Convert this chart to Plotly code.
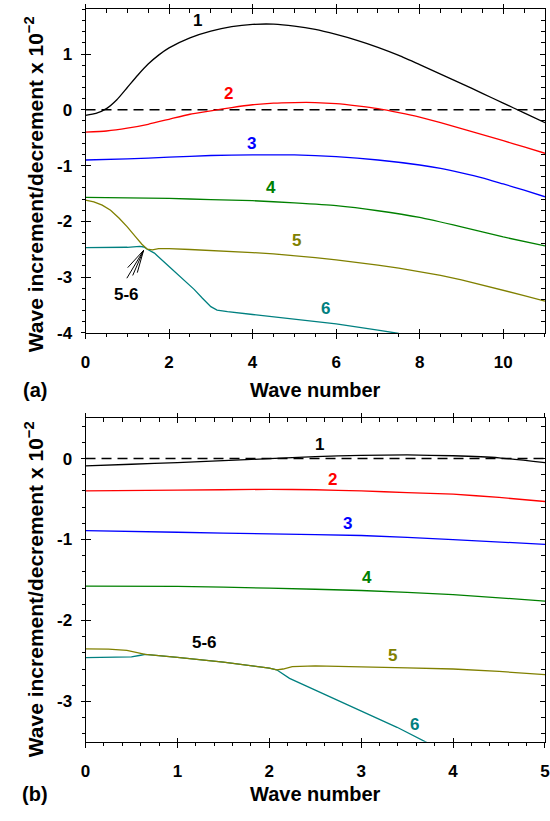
import plotly.graph_objects as go

# ---------------- panel (a): wave numbers 0..11 ----------------
a1_x = [0, 0.25, 0.5, 0.75, 1.0, 1.25, 1.5, 1.75, 2.0, 2.5, 3.0, 3.5, 4.0, 4.5, 5.0,
        5.5, 6.0, 6.5, 7.0, 7.5, 8.0, 8.5, 9.0, 9.5, 10.0, 10.5, 11.0]
a1_y = [-0.10, -0.065, 0.02, 0.18, 0.40, 0.62, 0.82, 0.98, 1.11, 1.29, 1.41, 1.49, 1.53, 1.535, 1.50,
        1.44, 1.35, 1.245, 1.12, 0.975, 0.81, 0.64, 0.47, 0.295, 0.12, -0.055, -0.23]

a2_x = [0, 0.5, 1, 1.5, 2, 2.5, 3, 3.5, 4, 4.5, 5, 5.5, 6, 6.5, 7, 7.5, 8, 8.5, 9, 9.5, 10, 10.5, 11]
a2_y = [-0.40, -0.38, -0.33, -0.26, -0.17, -0.08, -0.02, 0.04, 0.09, 0.12, 0.13, 0.13, 0.11, 0.07,
        0.02, -0.05, -0.13, -0.23, -0.34, -0.445, -0.555, -0.665, -0.78]

a3_x = [0, 1, 2, 3, 4, 5, 6, 7, 8, 8.5, 9, 9.5, 10, 10.5, 11]
a3_y = [-0.90, -0.88, -0.85, -0.82, -0.81, -0.81, -0.84, -0.90, -0.99, -1.05, -1.13, -1.22, -1.33,
        -1.44, -1.56]

a4_x = [0, 1, 2, 3, 4, 5, 6, 7, 8, 9, 10, 11]
a4_y = [-1.57, -1.58, -1.59, -1.61, -1.63, -1.67, -1.72, -1.81, -1.93, -2.10, -2.28, -2.44]

a5_x = [0, 0.2, 0.4, 0.6, 0.8, 1.0, 1.2, 1.35, 1.48, 1.6, 1.75, 2.0, 2.5, 3.0, 3.5, 4.0, 4.5,
        5.0, 5.5, 6.0, 6.5, 7.0, 7.5, 8.0, 8.5, 9.0, 9.5, 10.0, 10.5, 11.0]
a5_y = [-1.62, -1.65, -1.71, -1.80, -1.94, -2.10, -2.28, -2.41, -2.50, -2.51, -2.49, -2.49, -2.505,
        -2.52, -2.54, -2.56, -2.585, -2.615, -2.65, -2.69, -2.735, -2.785, -2.84, -2.90, -2.97,
        -3.05, -3.14, -3.235, -3.33, -3.43]

a6_x = [0, 0.5, 1.0, 1.3, 1.4, 1.48, 1.65, 2.0, 2.3, 2.6, 2.8, 3.0, 3.15, 3.4, 4.0, 5.0, 6.0,
        7.0, 7.5]
a6_y = [-2.47, -2.47, -2.465, -2.45, -2.46, -2.50, -2.57, -2.81, -3.02, -3.22, -3.38, -3.53, -3.59,
        -3.62, -3.67, -3.75, -3.84, -3.95, -4.01]

# ---------------- panel (b): wave numbers 0..5 ----------------
b1_x = [0, 0.5, 1, 1.5, 2, 2.5, 3, 3.5, 4, 4.5, 5]
b1_y = [-0.09, -0.07, -0.05, -0.025, 0.0, 0.025, 0.04, 0.045, 0.035, 0.01, -0.05]

b2_x = [0, 1, 2, 2.5, 3, 3.5, 4, 4.5, 5]
b2_y = [-0.40, -0.39, -0.38, -0.385, -0.40, -0.42, -0.44, -0.48, -0.53]

b3_x = [0, 1, 2, 3, 4, 5]
b3_y = [-0.89, -0.91, -0.93, -0.95, -1.00, -1.06]

b4_x = [0, 1, 2, 3, 4, 5]
b4_y = [-1.575, -1.58, -1.60, -1.63, -1.68, -1.76]

b5_x = [0, 0.25, 0.45, 0.6, 0.65, 1.0, 1.5, 2.0, 2.08, 2.15, 2.25, 2.5, 3.0, 3.5, 4.0, 4.5, 5.0]
b5_y = [-2.35, -2.355, -2.37, -2.41, -2.42, -2.455, -2.515, -2.59, -2.61, -2.60, -2.57, -2.56,
        -2.57, -2.585, -2.60, -2.63, -2.67]

b6_x = [0, 0.3, 0.5, 0.6, 0.65, 1.0, 1.5, 2.0, 2.08, 2.22, 2.5, 3.0, 3.39, 3.7, 3.75]
b6_y = [-2.46, -2.455, -2.45, -2.43, -2.42, -2.455, -2.515, -2.59, -2.61, -2.715, -2.86, -3.11,
        -3.32, -3.50, -3.53]

mode_names = ["1", "2", "3", "4", "5", "6"]
mode_colors = ["#000000", "#ff0000", "#0000ff", "#008000", "#808000", "#008080"]

# label anchor points (wave number, value) for each mode
a_label_x = [2.67, 3.43, 3.98, 4.43, 5.05, 5.74]
a_label_y = [1.60, 0.30, -0.60, -1.40, -2.35, -3.56]
b_label_x = [2.55, 2.69, 2.85, 3.06, 3.34, 3.58]
b_label_y = [0.18, -0.26, -0.80, -1.47, -2.43, -3.28]

a_xrange, a_yrange = [0, 11], [-4, 1.8]
b_xrange, b_yrange = [0, 5], [-3.5, 0.5]
a_yticks = [-4, -3, -2, -1, 0, 1]
b_yticks = [-3, -2, -1, 0]

FONT = "Liberation Sans, Arial, sans-serif"
tick_font = dict(family=FONT, size=17, color="black", weight="bold")

fig = go.Figure()

curves_a = [(a1_x, a1_y), (a2_x, a2_y), (a3_x, a3_y), (a4_x, a4_y), (a5_x, a5_y), (a6_x, a6_y)]
curves_b = [(b1_x, b1_y), (b2_x, b2_y), (b3_x, b3_y), (b4_x, b4_y), (b5_x, b5_y), (b6_x, b6_y)]

# zero reference lines
fig.add_trace(go.Scatter(x=a_xrange, y=[0, 0], mode="lines", xaxis="x", yaxis="y",
                         line=dict(color="black", width=1.5, dash="10px,6px"),
                         showlegend=False, hoverinfo="skip"))
fig.add_trace(go.Scatter(x=b_xrange, y=[0, 0], mode="lines", xaxis="x2", yaxis="y2",
                         line=dict(color="black", width=1.5, dash="10px,6px"),
                         showlegend=False, hoverinfo="skip"))

draw_order = [5, 4, 3, 2, 1, 0]
for i in draw_order:
    shape = "spline" if i < 4 else "linear"
    cx, cy = curves_a[i]
    fig.add_trace(go.Scatter(x=cx, y=cy, mode="lines", xaxis="x", yaxis="y",
                             line=dict(color=mode_colors[i], width=1.3, shape=shape, smoothing=0.5),
                             name=mode_names[i], showlegend=False))
    cx, cy = curves_b[i]
    fig.add_trace(go.Scatter(x=cx, y=cy, mode="lines", xaxis="x2", yaxis="y2",
                             line=dict(color=mode_colors[i], width=1.3, shape=shape, smoothing=0.5),
                             name=mode_names[i], showlegend=False))

# empty traces so that the extra tick-only axes get drawn
for xa, ya in [("x3", "y"), ("x5", "y"), ("x7", "y"), ("x", "y3"), ("x", "y5"),
               ("x4", "y2"), ("x6", "y2"), ("x8", "y2"), ("x2", "y4"), ("x2", "y6")]:
    fig.add_trace(go.Scatter(x=[None], y=[None], mode="lines", xaxis=xa, yaxis=ya,
                             showlegend=False, hoverinfo="skip"))

dom_x = [82 / 550, 1.0]
dom_a = [1 - 337 / 821, 1 - 9.5 / 821]
dom_b = [1 - 751 / 821, 1 - 423.3 / 821]

common = dict(showgrid=False, zeroline=False, tickcolor="black", tickwidth=1, fixedrange=True)


def x_axes(rng, dtick, mdtick, ydom_anchor, base):
    main = dict(common, domain=dom_x, range=rng, anchor=ydom_anchor, tickmode="linear", tick0=0,
                dtick=dtick, ticks="outside", ticklen=5, showline=True, linecolor="black",
                linewidth=1, tickfont=tick_font, ticklabelstandoff=9, ticklabeloverflow="allow",
                minor=dict(ticks="outside", ticklen=3, tick0=0, dtick=mdtick, tickcolor="black",
                           showgrid=False))
    inner = dict(common, range=rng, anchor=ydom_anchor, overlaying=base, side="bottom",
                 tickmode="linear", tick0=0, dtick=dtick, ticks="inside", ticklen=4,
                 showticklabels=False, showline=False)
    top_in = dict(common, range=rng, anchor=ydom_anchor, overlaying=base, side="top",
                  tickmode="linear", tick0=0, dtick=dtick, ticks="inside", ticklen=5,
                  showticklabels=False, showline=True, linecolor="black", linewidth=1,
                  minor=dict(ticks="inside", ticklen=4, tick0=0, dtick=mdtick, tickcolor="black",
                             showgrid=False))
    top_out = dict(common, range=rng, anchor=ydom_anchor, overlaying=base, side="top",
                   tickmode="linear", tick0=0, dtick=dtick, ticks="outside", ticklen=4,
                   showticklabels=False, showline=False)
    return main, inner, top_in, top_out


def y_axes(rng, dom, tickvals, xanchor, base):
    text = [str(v) for v in tickvals]
    main = dict(common, domain=dom, range=rng, anchor=xanchor, tickmode="array",
                tickvals=tickvals, ticktext=text, ticks="outside", ticklen=4, showline=True,
                linecolor="black", linewidth=1, tickfont=tick_font, ticklabelstandoff=5,
                minor=dict(ticks="outside", ticklen=3, tick0=0, dtick=0.2, tickcolor="black",
                           showgrid=False))
    inner = dict(common, range=rng, anchor=xanchor, overlaying=base, side="left",
                 tickmode="array", tickvals=tickvals, ticks="inside", ticklen=5,
                 showticklabels=False, showline=False)
    right = dict(common, range=rng, anchor=xanchor, overlaying=base, side="right",
                 tickmode="array", tickvals=tickvals, ticks="inside", ticklen=5,
                 showticklabels=False, showline=True, linecolor="black", linewidth=1,
                 minor=dict(ticks="inside", ticklen=4, tick0=0, dtick=0.2, tickcolor="black",
                            showgrid=False))
    return main, inner, right


xa1, xa3, xa5, xa7 = x_axes(a_xrange, 2, 0.5, "y", "x")
xb2, xb4, xb6, xb8 = x_axes(b_xrange, 1, 0.2, "y2", "x2")
ya1, ya3, ya5 = y_axes(a_yrange, dom_a, a_yticks, "x", "y")
yb2, yb4, yb6 = y_axes(b_yrange, dom_b, b_yticks, "x2", "y2")

annotations = []
label_font = dict(family=FONT, size=17, weight="bold")
for i in range(6):
    annotations.append(dict(x=a_label_x[i], y=a_label_y[i], xref="x", yref="y", text=mode_names[i],
                            showarrow=False, font=dict(label_font, color=mode_colors[i])))
    annotations.append(dict(x=b_label_x[i], y=b_label_y[i], xref="x2", yref="y2",
                            text=mode_names[i], showarrow=False,
                            font=dict(label_font, color=mode_colors[i])))
annotations.append(dict(x=0.99, y=-3.31, xref="x", yref="y", text="5-6", showarrow=False,
                        font=dict(label_font, color="black")))
annotations.append(dict(x=1.29, y=-2.27, xref="x2", yref="y2", text="5-6", showarrow=False,
                        font=dict(label_font, color="black")))

title_font = dict(family=FONT, size=20, color="black", weight="bold")
ytitle_font = dict(family=FONT, size=21, color="black", weight="bold")
ytitle = "Wave increment/decrement x 10<sup>\u22122</sup>"
for yc in [1 - 186 / 821, 1 - 596 / 821]:
    annotations.append(dict(x=29 / 550, y=yc, xref="paper", yref="paper", text=ytitle,
                            textangle=-90, showarrow=False, font=ytitle_font,
                            xanchor="center", yanchor="middle"))
for yc, tag in [(1 - 395 / 821, "(a)"), (1 - 804 / 821, "(b)")]:
    annotations.append(dict(x=316 / 550, y=yc, xref="paper", yref="paper", text="Wave number",
                            showarrow=False, font=title_font, xanchor="center",
                            yanchor="middle"))
    annotations.append(dict(x=31 / 550, y=yc, xref="paper", yref="paper", text=tag,
                            showarrow=False, font=title_font, xanchor="center",
                            yanchor="middle"))

# hand-drawn pointer from the "5-6" label to the crossing of modes 5 and 6
tip = (1.39, -2.52)
shapes = []
for tx, ty in [(0.99, -3.02), (1.01, -2.83), (1.13, -2.97), (1.24, -2.92)]:
    shapes.append(dict(type="line", xref="x", yref="y", x0=tx, y0=ty, x1=tip[0], y1=tip[1],
                       line=dict(color="black", width=1)))

fig.update_layout(
    width=550, height=821,
    margin=dict(l=0, r=0, t=0, b=0),
    paper_bgcolor="white", plot_bgcolor="white",
    showlegend=False,
    xaxis=xa1, xaxis3=xa3, xaxis5=xa5, xaxis7=xa7,
    xaxis2=xb2, xaxis4=xb4, xaxis6=xb6, xaxis8=xb8,
    yaxis=ya1, yaxis3=ya3, yaxis5=ya5,
    yaxis2=yb2, yaxis4=yb4, yaxis6=yb6,
    annotations=annotations,
    shapes=shapes,
)

fig.write_html("out.html")
